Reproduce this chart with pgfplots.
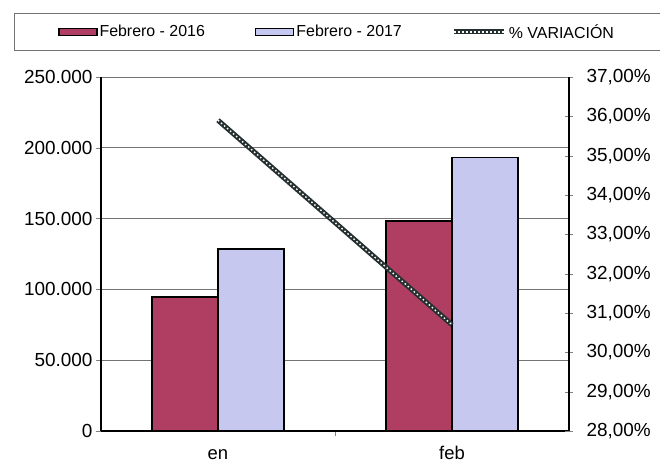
\documentclass[border=0pt]{standalone}
\usepackage{fontspec}
\setmainfont{Liberation Sans}
\usepackage{pgfplots}
\pgfplotsset{compat=1.18}

\definecolor{bar16}{RGB}{176,62,98}
\definecolor{bar17}{RGB}{198,200,240}
\definecolor{varline}{RGB}{38,48,48}
\definecolor{gridgray}{RGB}{115,115,115}

\pgfplotsset{
  boxlegend/.style={legend image code/.code={\draw[##1] (0bp,-3.5bp) rectangle (38bp,3.5bp);}},
  varlegend/.style={legend image code/.code={
      \draw[varline, line width=5bp] (0bp,0bp) -- (50bp,0bp);
      \draw[white, line width=1.4bp, dash pattern=on 1.5bp off 2.5bp] (0bp,0bp) -- (50bp,0bp);}},
  common/.style={
    scale only axis, width=468bp, height=354bp,
    xmin=-0.5, xmax=1.5,
    tick label style={font=\fontsize{19}{22}\selectfont, black},
    axis line style={black, line width=1.1bp},
  },
}

\begin{document}
\begin{tikzpicture}
\begin{axis}[
    common,
    ybar=0pt, bar width=66bp,
    ymin=0, ymax=250000,
    ytick={0,50000,100000,150000,200000,250000},
    yticklabels={0,50.000,100.000,150.000,200.000,250.000},
    scaled y ticks=false,
    axis y line*=left, axis x line*=bottom,
    tick align=outside, major tick length=5bp,
    ymajorgrids=true,
    grid style={gridgray, line width=0.8bp},
    xtick={0.5}, xticklabels={},
    extra x ticks={0,1}, extra x tick labels={en,feb},
    extra x tick style={major tick length=0pt, tick style={draw=none}},
    xticklabel style={font=\fontsize{18.5}{22}\selectfont, anchor=north, yshift=-15bp,
        inner ysep=0bp, text height=13.5bp, text depth=0bp},
    legend columns=3,
    legend style={at={(0.5,1)}, anchor=south, xshift=2bp, yshift=26bp,
        draw=gridgray, line width=0.8bp,
        inner xsep=44bp, inner ysep=9bp,
        font=\fontsize{16}{19}\selectfont,
        /tikz/every even column/.append style={column sep=48bp}},
]
\addplot[boxlegend, fill=bar16, draw=black, line width=1.5bp]
    coordinates {(0,94600) (1,148300)};
\addlegendentry{Febrero - 2016}
\addplot[boxlegend, fill=bar17, draw=black, line width=1.5bp]
    coordinates {(0,128500) (1,193300)};
\addlegendentry{Febrero - 2017}
\addlegendimage{varlegend}
\addlegendentry{\% VARIACIÓN}
\end{axis}

\begin{axis}[
    common,
    ymin=28, ymax=37,
    ytick={28,29,30,31,32,33,34,35,36,37},
    yticklabels={{28,00\%},{29,00\%},{30,00\%},{31,00\%},{32,00\%},{33,00\%},{34,00\%},{35,00\%},{36,00\%},{37,00\%}},
    yticklabel style={xshift=10bp},
    axis x line=none, axis y line*=right,
    tick align=center, major tick length=8bp,
]
\addplot[varline, line width=5bp,
    postaction={draw=white, line width=1.4bp, dash pattern=on 1.5bp off 2.5bp}]
    coordinates {(0,35.9) (1,30.7)};
\end{axis}
\pgfresetboundingbox
\useasboundingbox (-101bp,-33bp) rectangle ++(660bp,464bp);
\end{tikzpicture}
\end{document}
